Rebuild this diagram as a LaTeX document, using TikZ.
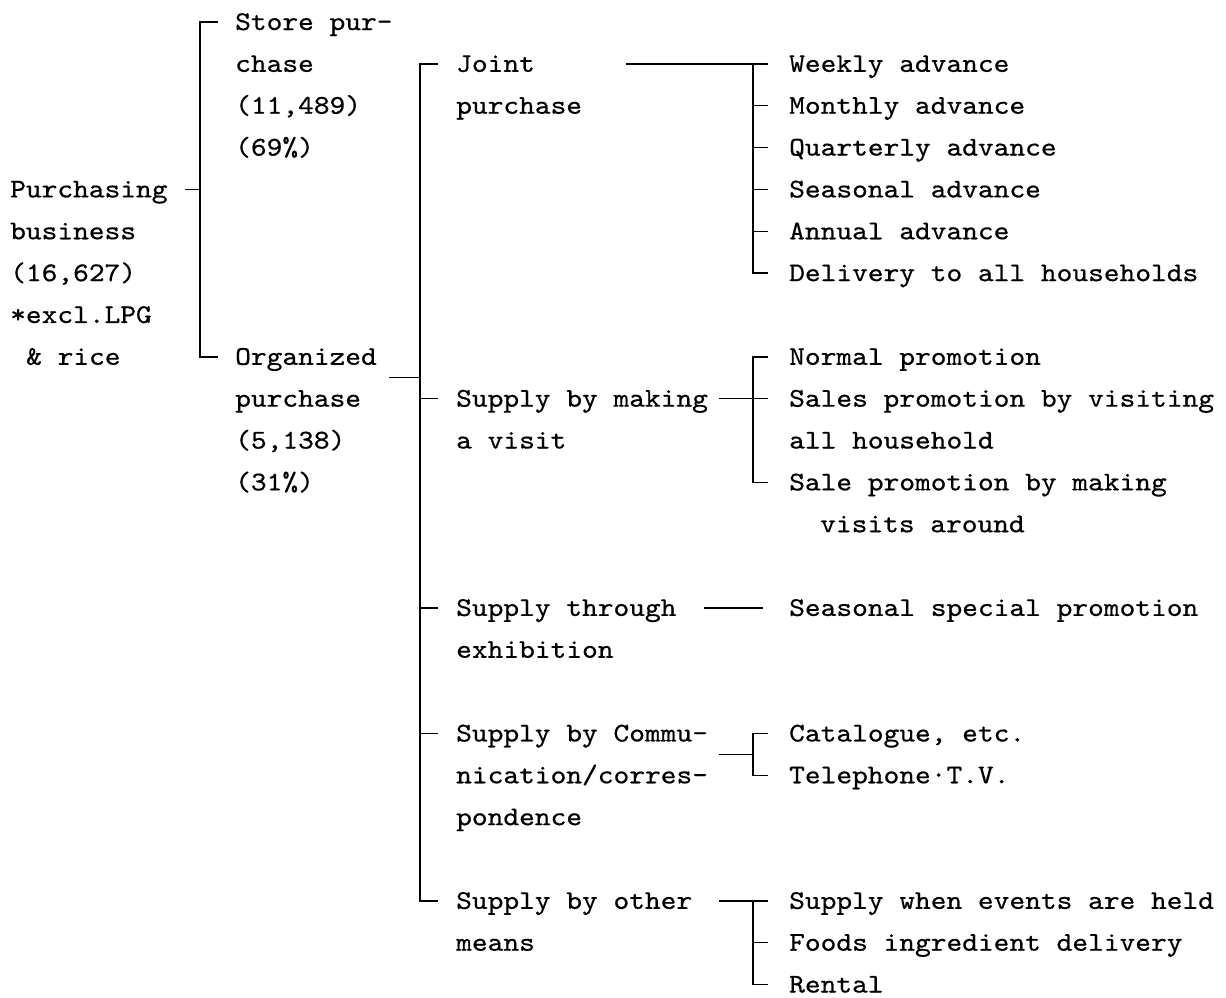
\documentclass[tikz,border=0pt]{standalone}
\usepackage{fontspec}
\newfontfamily\twfont{lmmono10-regular.otf}[FakeStretch=1.11, FakeBold=0.6]
\newcommand\treefont{\twfont\fontsize{27pt}{27pt}\selectfont}
\begin{document}
% x in points, y counted in text rows (row 0 at the top line)
\begin{tikzpicture}[x=1pt, y=-41.85pt,
  lbl/.style={anchor=west, inner sep=0pt, text height=16pt, text depth=0pt, font=\treefont},
  tree/.style={line width=1.5pt, line cap=rect}]
\useasboundingbox (0,-0.5257) rectangle (1226,23.2975);

% ---- column 1
\node[lbl] (pb1) at (10,4) {Purchasing};
\node[lbl] (pb2) at (10,5) {business};
\node[lbl] (pb3) at (10,6) {(16,627)};
\node[lbl] (pb4) at (10,7) {*excl.LPG};
\node[lbl] (pb5) at (26,8) {\& rice};

% ---- column 2
\node[lbl] (sp1) at (235,0) {Store pur-};
\node[lbl] (sp2) at (235,1) {chase};
\node[lbl] (sp3) at (235,2) {(11,489)};
\node[lbl] (sp4) at (235,3) {(69\%)};
\node[lbl] (op1) at (235,8) {Organized};
\node[lbl] (op2) at (235,9) {purchase};
\node[lbl] (op3) at (235,10) {(5,138)};
\node[lbl] (op4) at (235,11) {(31\%)};

% ---- column 3
\node[lbl] (jp1) at (456,1) {Joint};
\node[lbl] (jp2) at (456,2) {purchase};
\node[lbl] (sv1) at (456,9) {Supply by making};
\node[lbl] (sv2) at (456,10) {a visit};
\node[lbl] (se1) at (456,14) {Supply through};
\node[lbl] (se2) at (456,15) {exhibition};
\node[lbl] (sc1) at (456,17) {Supply by Commu-};
\node[lbl] (sc2) at (456,18) {nication/corres-};
\node[lbl] (sc3) at (456,19) {pondence};
\node[lbl] (so1) at (456,21) {Supply by other};
\node[lbl] (so2) at (456,22) {means};

% ---- column 4
\node[lbl] (w1) at (789,1) {Weekly advance};
\node[lbl] (w2) at (789,2) {Monthly advance};
\node[lbl] (w3) at (789,3) {Quarterly advance};
\node[lbl] (w4) at (789,4) {Seasonal advance};
\node[lbl] (w5) at (789,5) {Annual advance};
\node[lbl] (w6) at (789,6) {Delivery to all households};
\node[lbl] (v1) at (789,8) {Normal promotion};
\node[lbl] (v2) at (789,9) {Sales promotion by visiting};
\node[lbl] (v2b) at (789,10) {all household};
\node[lbl] (v3) at (789,11) {Sale promotion by making};
\node[lbl] (v3b) at (820,12) {visits around};
\node[lbl] (e1) at (789,14) {Seasonal special promotion};
\node[lbl] (c1) at (789,17) {Catalogue, etc.};
\node[lbl] (c2) at (789,18) {Telephone·T.V.};
\node[lbl] (o1) at (789,21) {Supply when events are held};
\node[lbl] (o2) at (789,22) {Foods ingredient delivery};
\node[lbl] (o3) at (789,23) {Rental};

% ---- spines and joints
\coordinate (spA) at (200,0);
\coordinate (spB) at (420,0);
\coordinate (spC) at (753,0);
\coordinate (opout) at (390,8.5);
\coordinate (jpout) at (627,1);
\coordinate (svout) at (720,9);
\coordinate (seout) at (705,14);
\coordinate (scout) at (720,17.5);
\coordinate (soout) at (720,21);

% purchasing business
\draw[tree] ([xshift=18pt]pb1.east) -- (pb1.east -| spA);
\draw[tree] ([xshift=-18pt]sp1.west) -- (sp1.west -| spA) -- (op1.west -| spA) -- ([xshift=-18pt]op1.west);

% organized purchase
\draw[tree] (opout) -- (opout -| spB);
\draw[tree] ([xshift=-19pt]jp1.west) -- (jp1.west -| spB) -- (so1.west -| spB) -- ([xshift=-19pt]so1.west);
\foreach \n in {sv1,se1,sc1}
  \draw[tree] (\n.west -| spB) -- ([xshift=-19pt]\n.west);

% joint purchase
\draw[tree] (jpout) -- ([xshift=-22pt]w1.west |- jpout);
\draw[tree] (w1.west -| spC) -- (w6.west -| spC) -- ([xshift=-22pt]w6.west);
\foreach \n in {w2,w3,w4,w5}
  \draw[tree] (\n.west -| spC) -- ([xshift=-22pt]\n.west);

% supply by making a visit
\draw[tree] (svout) -- ([xshift=-22pt]v2.west);
\draw[tree] ([xshift=-22pt]v1.west) -- (v1.west -| spC) -- (v3.west -| spC) -- ([xshift=-22pt]v3.west);

% supply through exhibition
\draw[tree] (seout) -- ([xshift=-27pt]e1.west);

% supply by communication
\draw[tree] (scout) -- (scout -| spC);
\draw[tree] ([xshift=-22pt]c1.west) -- (c1.west -| spC) -- (c2.west -| spC) -- ([xshift=-22pt]c2.west);

% supply by other means
\draw[tree] (soout) -- ([xshift=-22pt]o1.west);
\draw[tree] (o1.west -| spC) -- (o3.west -| spC) -- ([xshift=-22pt]o3.west);
\draw[tree] (o2.west -| spC) -- ([xshift=-22pt]o2.west);
\end{tikzpicture}
\end{document}
